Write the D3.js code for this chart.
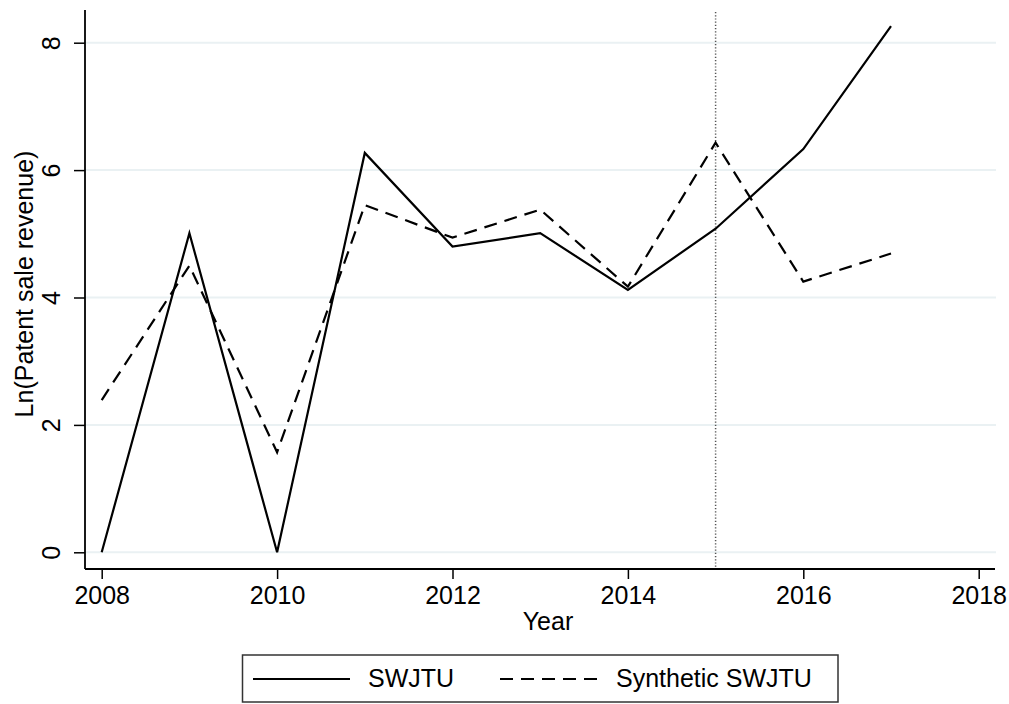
<!DOCTYPE html>
<html>
<head>
<meta charset="utf-8">
<script src="https://cdn.jsdelivr.net/npm/d3@7"></script>
<style>
  html, body { margin: 0; padding: 0; background: #fff; }
  svg { display: block; font-family: "Liberation Sans", Arial, Helvetica, sans-serif; }
</style>
</head>
<body>
<svg id="chart" width="1009" height="704"></svg>
<script>
// Yearly series: observed SWJTU vs. its synthetic control
const years = [2008, 2009, 2010, 2011, 2012, 2013, 2014, 2015, 2016, 2017];
const swjtu = [0.00, 5.01, 0.00, 6.27, 4.80, 5.01, 4.12, 5.08, 6.33, 8.26];
const synthetic = [2.39, 4.50, 1.57, 5.45, 4.94, 5.38, 4.17, 6.43, 4.25, 4.69];
const xTicks = [2008, 2010, 2012, 2014, 2016, 2018];
const yTicks = [0, 2, 4, 6, 8];
const treatmentYear = 2015;
const seriesNames = ["SWJTU", "Synthetic SWJTU"];

const svg = d3.select("#chart");

// Plot frame
const frame = { left: 85, right: 995, top: 10, bottom: 569 };

const x = d3.scaleLinear().domain([2008, 2018]).range([101.7, 978.7]);
const y = d3.scaleLinear().domain([0, 8]).range([552.3, 42.7]);

// Horizontal gridlines
svg.append("g")
  .selectAll("line")
  .data(yTicks)
  .join("line")
  .attr("x1", frame.left).attr("x2", frame.right + 1)
  .attr("y1", d => y(d)).attr("y2", d => y(d))
  .attr("stroke", "#eaf1f3")
  .attr("stroke-width", 2);

// Treatment year marker
svg.append("line")
  .attr("x1", x(treatmentYear)).attr("x2", x(treatmentYear))
  .attr("y1", 12).attr("y2", frame.bottom)
  .attr("stroke", "#555")
  .attr("stroke-width", 1.5)
  .attr("stroke-dasharray", "1.2,2");

// Y axis
const yAxis = svg.append("g")
  .attr("transform", `translate(${frame.left},0)`)
  .call(d3.axisLeft(y).tickValues(yTicks).tickSize(11).tickFormat(d3.format("d")));
yAxis.select(".domain").remove();
yAxis.selectAll(".tick line").attr("stroke", "#000").attr("stroke-width", 1.5);
yAxis.selectAll(".tick text")
  .attr("transform", "rotate(-90)")
  .attr("x", 0).attr("y", -25).attr("dy", 0)
  .attr("text-anchor", "middle")
  .attr("fill", "#000")
  .style("font-size", "25px");
svg.append("line")
  .attr("x1", frame.left).attr("x2", frame.left)
  .attr("y1", frame.top).attr("y2", frame.bottom)
  .attr("stroke", "#000").attr("stroke-width", 1.8);

// X axis
const xAxis = svg.append("g")
  .attr("transform", `translate(0,${frame.bottom})`)
  .call(d3.axisBottom(x).tickValues(xTicks).tickSize(10).tickFormat(d3.format("d")));
xAxis.select(".domain").remove();
xAxis.selectAll(".tick line").attr("stroke", "#000").attr("stroke-width", 1.5);
xAxis.selectAll(".tick text")
  .attr("y", 35).attr("dy", 0)
  .attr("fill", "#000")
  .style("font-size", "25px");
svg.append("line")
  .attr("x1", frame.left).attr("x2", frame.right)
  .attr("y1", frame.bottom).attr("y2", frame.bottom)
  .attr("stroke", "#000").attr("stroke-width", 1.8);

// Axis titles
svg.append("text")
  .attr("x", 548).attr("y", 630)
  .attr("text-anchor", "middle")
  .style("font-size", "25px")
  .text("Year");
svg.append("text")
  .attr("transform", "translate(33,284) rotate(-90)")
  .attr("text-anchor", "middle")
  .style("font-size", "25px")
  .text("Ln(Patent sale revenue)");

// Series lines
const line = d3.line().x(d => x(d[0])).y(d => y(d[1]));
svg.append("path")
  .datum(years.map((yr, i) => [yr, swjtu[i]]))
  .attr("d", line)
  .attr("fill", "none")
  .attr("stroke", "#000")
  .attr("stroke-width", 2.2);
svg.append("path")
  .datum(years.map((yr, i) => [yr, synthetic[i]]))
  .attr("d", line)
  .attr("fill", "none")
  .attr("stroke", "#000")
  .attr("stroke-width", 2.2)
  .attr("stroke-dasharray", "13,8");

// Legend
const legend = svg.append("g");
legend.append("rect")
  .attr("x", 242.5).attr("y", 655)
  .attr("width", 595.5).attr("height", 47)
  .attr("fill", "#fff")
  .attr("stroke", "#333")
  .attr("stroke-width", 1.5);
legend.append("line")
  .attr("x1", 253).attr("x2", 350)
  .attr("y1", 679).attr("y2", 679)
  .attr("stroke", "#000").attr("stroke-width", 2.2);
legend.append("text")
  .attr("x", 368).attr("y", 687)
  .style("font-size", "25px")
  .text(seriesNames[0]);
legend.append("line")
  .attr("x1", 500).attr("x2", 598)
  .attr("y1", 679).attr("y2", 679)
  .attr("stroke", "#000").attr("stroke-width", 2.2)
  .attr("stroke-dasharray", "13,8");
legend.append("text")
  .attr("x", 616).attr("y", 687)
  .style("font-size", "25px")
  .text(seriesNames[1]);
</script>
</body>
</html>
